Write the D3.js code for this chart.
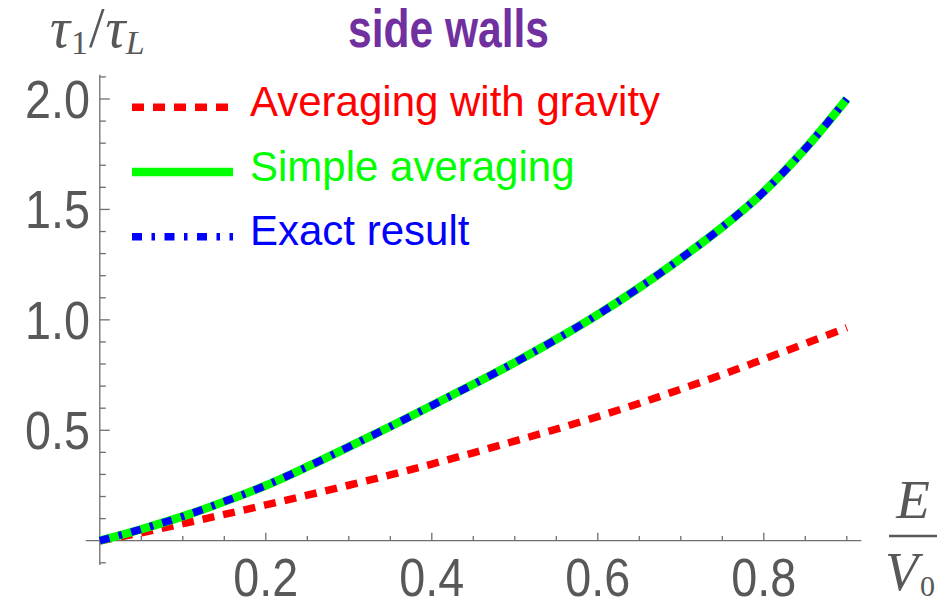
<!DOCTYPE html>
<html>
<head>
<meta charset="utf-8">
<script src="https://cdn.jsdelivr.net/npm/d3@7"></script>
<style>
  html, body { margin: 0; padding: 0; background: #fff; }
  svg { display: block; }
</style>
</head>
<body>
<svg id="chart" width="939" height="602"></svg>
<script>
// E/V0 sample positions
const energy = [0, 0.05, 0.1, 0.15, 0.2, 0.25, 0.3, 0.35, 0.4, 0.45, 0.5,
                0.55, 0.6, 0.65, 0.7, 0.75, 0.8, 0.85, 0.9];
// tau1/tauL for each model
const withGravity = [0, 0.036, 0.077, 0.119, 0.162, 0.206, 0.251, 0.298, 0.347, 0.398, 0.451,
                     0.505, 0.562, 0.622, 0.686, 0.752, 0.822, 0.893, 0.965];
const simpleAvg   = [0, 0.052, 0.11, 0.177, 0.25, 0.335, 0.425, 0.517, 0.612, 0.708, 0.807,
                     0.912, 1.024, 1.146, 1.278, 1.42, 1.58, 1.775, 2.0];
const exactResult = [0, 0.052, 0.11, 0.177, 0.25, 0.335, 0.425, 0.517, 0.612, 0.708, 0.807,
                     0.912, 1.024, 1.146, 1.278, 1.42, 1.58, 1.775, 2.0];

const seriesNames = ["Averaging with gravity", "Simple averaging", "Exact result"];
const xTickLabels = [0.2, 0.4, 0.6, 0.8];
const yTickLabels = [0.5, 1.0, 1.5, 2.0];
const titleText = "side walls";

const svg = d3.select("#chart");
const axisColor = "#6e6e6e";
const labelColor = "#585858";

const x = d3.scaleLinear().domain([0, 0.9]).range([99.8, 846.8]);
const y = d3.scaleLinear().domain([0, 2.0]).range([540.7, 99]);

// ----- axes (crossing at the origin, ticks drawn inward) -----
const axes = svg.append("g").attr("stroke", axisColor).attr("stroke-width", 1.3);
axes.append("line")
  .attr("x1", x(-0.017)).attr("x2", x(0.9175))
  .attr("y1", y(0)).attr("y2", y(0));
axes.append("line")
  .attr("x1", x(0)).attr("x2", x(0))
  .attr("y1", y(-0.11)).attr("y2", y(2.11));

const xMinor = d3.range(1, 19).map(i => i * 0.05);
axes.selectAll(".xt").data(xMinor).join("line")
  .attr("x1", d => x(d)).attr("x2", d => x(d))
  .attr("y1", y(0))
  .attr("y2", d => y(0) - (Math.abs(d * 5 - Math.round(d * 5)) < 1e-6 ? 8 : 4.7));

const yMinor = d3.range(-1, 22).filter(i => i !== 0).map(i => i / 10);
axes.selectAll(".yt").data(yMinor).join("line")
  .attr("y1", d => y(d)).attr("y2", d => y(d))
  .attr("x1", x(0))
  .attr("x2", d => x(0) + (Math.abs(d * 2 - Math.round(d * 2)) < 1e-6 ? 10 : 6));

// tick labels
const tickFont = "'Liberation Sans Narrow', 'Arial Narrow', 'Liberation Sans', Arial, sans-serif";
svg.append("g").selectAll("text").data(yTickLabels).join("text")
  .attr("x", 90).attr("y", d => y(d) + 19)
  .attr("text-anchor", "end")
  .attr("font-family", tickFont).attr("font-size", 53)
  .attr("fill", labelColor)
  .attr("textLength", 65).attr("lengthAdjust", "spacingAndGlyphs")
  .text(d => d.toFixed(1));

svg.append("g").selectAll("text").data(xTickLabels).join("text")
  .attr("x", d => x(d)).attr("y", 596)
  .attr("text-anchor", "middle")
  .attr("font-family", tickFont).attr("font-size", 53)
  .attr("fill", labelColor)
  .attr("textLength", 65).attr("lengthAdjust", "spacingAndGlyphs")
  .text(d => d.toFixed(1));

// y-axis label: tau_1 / tau_L
const serif = "'Liberation Serif', 'DejaVu Serif', 'Times New Roman', serif";
const yl = svg.append("text").attr("x", 50).attr("y", 47)
  .attr("font-family", serif).attr("fill", labelColor).attr("font-size", 56);
yl.append("tspan").attr("font-style", "italic").text("τ");
yl.append("tspan").attr("font-size", 34).attr("dy", 7).attr("dx", 1).text("1");
yl.append("tspan").attr("dy", -7).attr("dx", 1).text("/");
yl.append("tspan").attr("font-style", "italic").attr("dx", 1).text("τ");
yl.append("tspan").attr("font-size", 34).attr("font-style", "italic").attr("dy", 7).text("L");

// x-axis label: E / V0
svg.append("text").attr("x", 913).attr("y", 518)
  .attr("text-anchor", "middle").attr("font-family", serif)
  .attr("font-style", "italic").attr("font-size", 55).attr("fill", labelColor)
  .text("E");
svg.append("line").attr("x1", 889).attr("x2", 937).attr("y1", 536).attr("y2", 536)
  .attr("stroke", labelColor).attr("stroke-width", 2.5);
svg.append("text").attr("x", 885).attr("y", 590)
  .attr("font-family", serif).attr("font-style", "italic")
  .attr("font-size", 54).attr("fill", labelColor)
  .text("V");
svg.append("text").attr("x", 920).attr("y", 596)
  .attr("font-family", serif).attr("font-size", 30).attr("fill", labelColor)
  .text("0");

// ----- curves -----
const line = d3.line().x(d => x(d[0])).y(d => y(d[1])).curve(d3.curveMonotoneX);
const series = [
  { name: seriesNames[0], values: withGravity, color: "#ff0000", width: 7.5, dash: "12,9" },
  { name: seriesNames[1], values: simpleAvg,   color: "#00ff00", width: 8.5, dash: null },
  { name: seriesNames[2], values: exactResult, color: "#0000ff", width: 7.5, dash: "10,9.5,3.5,9.5" }
];

svg.append("g").selectAll("path").data(series).join("path")
  .attr("d", s => line(energy.map((e, i) => [e, s.values[i]])))
  .attr("fill", "none")
  .attr("stroke", s => s.color)
  .attr("stroke-width", s => s.width)
  .attr("stroke-dasharray", s => s.dash);

// ----- legend -----
const legendRows = [107.3, 172, 236.7];
const lg = svg.append("g");
lg.selectAll("line").data(series).join("line")
  .attr("x1", 132).attr("x2", 233)
  .attr("y1", (s, i) => legendRows[i]).attr("y2", (s, i) => legendRows[i])
  .attr("stroke", s => s.color)
  .attr("stroke-width", s => s.width)
  .attr("stroke-dasharray", s => s.dash);
lg.selectAll("text").data(series).join("text")
  .attr("x", 250).attr("y", (s, i) => legendRows[i] + 8.5)
  .attr("font-family", "'Liberation Sans', Arial, sans-serif")
  .attr("font-size", 42)
  .attr("fill", s => s.color)
  .text(s => s.name);

// ----- title -----
svg.append("text").attr("x", 448.5).attr("y", 47)
  .attr("text-anchor", "middle")
  .attr("font-family", "'Liberation Sans Narrow', 'Arial Narrow', 'Liberation Sans', Arial, sans-serif")
  .attr("font-weight", "bold").attr("font-size", 53)
  .attr("fill", "#7030a0")
  .attr("textLength", 201).attr("lengthAdjust", "spacingAndGlyphs")
  .text(titleText);
</script>
</body>
</html>
